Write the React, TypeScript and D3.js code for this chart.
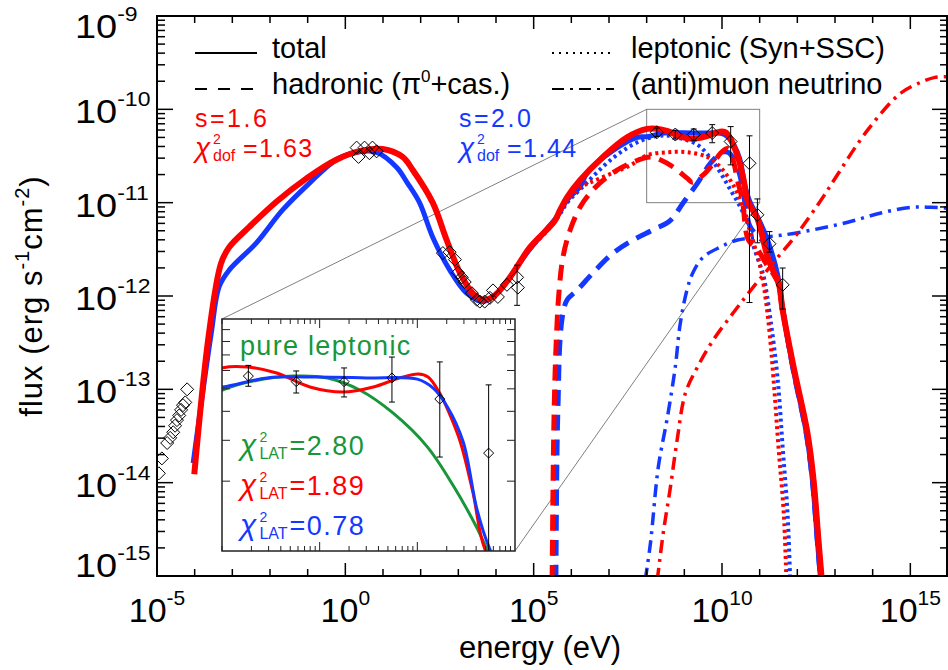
import React from "react";
import * as d3 from "d3";

type Pt = [number, number]; // [log10 E (eV), log10 flux (erg s^-1 cm^-2)]

// model curves, s = 1.6 (red) and s = 2.0 (blue)
const totalS16: Pt[] = [
  [-4.01, -13.91], [-3.62, -12.4], [-3.3, -11.65], [-3.08, -11.475], [-2.55, -11.26], [-1.83, -10.99],
  [-1.03, -10.74], [-0.24, -10.54], [0.46, -10.44], [0.99, -10.425], [1.52, -10.51], [1.79, -10.65],
  [2.32, -11.0], [2.69, -11.4], [3.04, -11.75], [3.38, -11.97], [3.65, -12.04], [3.92, -12.01],
  [4.37, -11.8], [4.9, -11.48], [5.55, -11.2], [5.7, -11.08], [5.89, -10.94], [6.23, -10.76],
  [6.84, -10.51], [7.48, -10.3], [8.01, -10.21], [8.26, -10.207], [8.56, -10.233], [8.9, -10.293],
  [9.24, -10.315], [9.55, -10.293], [9.82, -10.254], [10.01, -10.237], [10.11, -10.25], [10.23, -10.32],
  [10.31, -10.39], [10.44, -10.53], [10.57, -10.75], [10.69, -10.99], [10.94, -11.17], [11.21, -11.58],
  [11.37, -11.74], [11.5, -11.85], [11.61, -12.15], [11.9, -12.76], [12.27, -13.47], [12.43, -13.97],
  [12.56, -14.61], [12.65, -15.05],
];
const totalS20: Pt[] = [
  [-4.04, -13.79], [-3.56, -12.4], [-3.35, -11.9], [-3.08, -11.72], [-2.36, -11.43], [-1.67, -11.08],
  [-0.95, -10.79], [-0.24, -10.54], [0.3, -10.46], [0.83, -10.46], [1.36, -10.62], [1.65, -10.79],
  [1.97, -11.0], [2.32, -11.37], [2.77, -11.72], [3.22, -11.97], [3.65, -12.06], [4.1, -11.94],
  [4.82, -11.54], [5.35, -11.28], [5.62, -11.15], [5.89, -10.97], [6.23, -10.83], [6.42, -10.68],
  [7.11, -10.44], [7.75, -10.3], [8.01, -10.293], [8.46, -10.254], [8.97, -10.25], [9.48, -10.254],
  [10.0, -10.259], [10.16, -10.297], [10.31, -10.38], [10.47, -10.53], [10.61, -10.82], [10.74, -10.99],
  [10.94, -11.15], [11.21, -11.4], [11.48, -11.78], [11.61, -12.13], [11.88, -12.76], [12.24, -13.47],
  [12.4, -13.97], [12.53, -14.61], [12.62, -15.05],
];
const leptS16: Pt[] = [
  [4.9, -11.49], [5.55, -11.21], [5.8, -11.02], [6.23, -10.84], [6.76, -10.74], [7.56, -10.6],
  [8.02, -10.49], [8.55, -10.46], [9.08, -10.46], [9.61, -10.51], [9.96, -10.62], [10.22, -10.76],
  [10.41, -10.9], [10.68, -11.19], [10.84, -11.43], [11.02, -11.69], [11.12, -11.92], [11.24, -12.3],
  [11.37, -12.9], [11.5, -13.62], [11.64, -14.33], [11.71, -15.05],
];
const leptS20: Pt[] = [
  [4.9, -11.48], [5.62, -11.17], [5.89, -11.0], [6.23, -10.86], [7.11, -10.52], [7.83, -10.34],
  [8.44, -10.28], [8.89, -10.31], [9.35, -10.38], [9.69, -10.52], [9.96, -10.68], [10.22, -10.86],
  [10.49, -11.05], [10.68, -11.22], [10.84, -11.47], [11.02, -11.68], [11.1, -11.78], [11.29, -12.26],
  [11.48, -12.9], [11.61, -13.62], [11.74, -14.33], [11.81, -15.05],
];
const hadS16: Pt[] = [
  [5.49, -15.05], [5.51, -14.19], [5.54, -13.3], [5.59, -12.58], [5.67, -11.97], [5.78, -11.58],
  [5.97, -11.29], [6.23, -11.05], [6.58, -10.86], [7.03, -10.7], [7.56, -10.58], [8.1, -10.51],
  [8.36, -10.54], [8.71, -10.62], [9.08, -10.74], [9.21, -10.78], [9.51, -10.7], [9.77, -10.58],
  [9.96, -10.47], [10.15, -10.42], [10.3, -10.55], [10.41, -10.76], [10.54, -10.97], [10.7, -11.4],
  [10.94, -11.5], [11.21, -11.68], [11.37, -11.77], [11.5, -11.87], [11.61, -12.16], [11.9, -12.77],
  [12.27, -13.48], [12.43, -13.98], [12.56, -14.62], [12.65, -15.05],
];
const hadS20: Pt[] = [
  [5.59, -15.05], [5.62, -13.65], [5.65, -13.11], [5.7, -12.47], [5.78, -12.18], [5.89, -12.04],
  [6.15, -11.94], [6.58, -11.75], [7.11, -11.54], [7.64, -11.4], [8.18, -11.29], [8.63, -11.19],
  [8.97, -11.0], [9.35, -10.79], [9.69, -10.58], [10.0, -10.46], [10.16, -10.46], [10.31, -10.53],
  [10.47, -10.7], [10.61, -11.0], [10.74, -11.25], [11.0, -11.38], [11.21, -11.45], [11.48, -11.8],
  [11.61, -12.14], [11.88, -12.77], [12.24, -13.48], [12.4, -13.98], [12.53, -14.62], [12.62, -15.05],
];
const nuS16: Pt[] = [
  [8.28, -15.05], [8.44, -14.54], [8.63, -14.05], [8.81, -13.54], [9.03, -13.04], [9.35, -12.76],
  [9.77, -12.47], [10.3, -12.18], [10.76, -11.94], [11.37, -11.64], [12.01, -11.325], [12.7, -10.93],
  [12.97, -10.76], [13.87, -10.22], [14.75, -9.825], [15.28, -9.71], [15.63, -9.66], [16.03, -9.65],
];
const nuS20: Pt[] = [
  [7.96, -15.05], [8.1, -14.65], [8.31, -13.83], [8.55, -13.3], [8.76, -12.76], [8.89, -12.3],
  [9.08, -11.92], [9.24, -11.74], [9.51, -11.58], [9.96, -11.475], [10.41, -11.4], [11.02, -11.37],
  [11.56, -11.35], [12.43, -11.29], [13.34, -11.21], [14.22, -11.11], [15.02, -11.05], [15.55, -11.05],
  [16.03, -11.06],
];
// pure leptonic fit (inset only)
const pureLept: Pt[] = [
  [7.95, -10.32], [8.01, -10.306], [8.29, -10.27], [8.73, -10.246], [9.08, -10.254], [9.41, -10.306],
  [9.75, -10.405], [10.1, -10.55], [10.37, -10.72], [10.61, -10.9], [10.71, -10.99], [10.74, -11.01],
];

// observations
const radioE = [-4.95, -4.87, -4.73, -4.65, -4.57, -4.52, -4.47, -4.41, -4.36, -4.31, -4.25, -4.2];
const radioF = [-13.9, -13.74, -13.575, -13.52, -13.46, -13.39, -13.33, -13.28, -13.22, -13.17, -13.14, -13.0];
const optE = [0.3, 0.35, 0.51, 0.64, 0.72, 0.83];
const optF = [-10.41, -10.51, -10.41, -10.47, -10.41, -10.45];
const xrayE = [2.59, 2.77, 2.91, 2.99, 3.09, 3.17, 3.36, 3.49, 3.57, 3.7, 3.84, 3.92, 4.05, 4.29, 4.56, 4.58];
const xrayF = [-11.54, -11.53, -11.61, -11.75, -11.8, -11.85, -11.97, -12.04, -12.06, -12.06, -12.02, -11.94, -12.01, -11.88, -11.8, -11.91];
const xrayErrE = [4.56];
const xrayErrLo = [-12.1];
const xrayErrHi = [-11.67];
const fermiE = [8.27, 8.76, 9.25, 9.74, 10.23, 10.73];
const fermiF = [-10.246, -10.27, -10.27, -10.254, -10.345, -10.578];
const fermiLo = [-10.29, -10.319, -10.336, -10.358, -10.595, -12.07];
const fermiHi = [-10.2, -10.224, -10.211, -10.164, -10.185, -10.284];
const tevE = [10.94, 11.26, 11.61];
const tevF = [-11.13, -11.44, -11.88];
const tevLo = [-11.43, -11.53, -12.14];
const tevHi = [-10.96, -11.31, -11.7];

const xDecades = d3.range(-5, 17);
const yDecades = d3.range(-15, -8);

const RED = "#ff0000";
const BLUE = "#1438ff";
const GREEN = "#17963a";
const FONT = "'Liberation Sans', Arial, Helvetica, sans-serif";

const P = { left: 157, right: 948, top: 16, bottom: 576 };
const I = { left: 222, right: 515, top: 319, bottom: 551 };

const p10 = (e: number) => Math.pow(10, e);
const x = d3.scaleLog().domain([1e-5, 1e16]).range([P.left, P.right]);
const y = d3.scaleLog().domain([1e-15, 1e-9]).range([P.bottom, P.top]);
const xi = d3.scaleLog().domain([1e8, 1e11]).range([I.left, I.right]);
const yi = d3.scaleLog().domain([1e-11, 1e-10]).range([I.bottom, I.top]);

const mkLine = (sx: any, sy: any) =>
  d3.line<Pt>().x((d) => sx(p10(d[0]))).y((d) => sy(p10(d[1]))).curve(d3.curveCatmullRom.alpha(0.5));

const diamond = (cx: number, cy: number, r: number) =>
  `M${cx},${cy - r}L${cx + r},${cy}L${cx},${cy + r}L${cx - r},${cy}Z`;

const Points = ({ E, F, sx, sy, r }: any) => (
  <g fill="none" stroke="#000" strokeWidth={1}>
    {E.map((e: number, i: number) => (
      <path key={i} d={diamond(sx(p10(e)), sy(p10(F[i])), r)} />
    ))}
  </g>
);

const ErrBars = ({ E, lo, hi, sx, sy }: any) => (
  <g stroke="#000" strokeWidth={1}>
    {E.map((e: number, i: number) => {
      const cx = sx(p10(e));
      const y0 = sy(p10(lo[i]));
      const y1 = sy(p10(hi[i]));
      return (
        <g key={i}>
          <line x1={cx} x2={cx} y1={y0} y2={y1} />
          <line x1={cx - 3} x2={cx + 3} y1={y0} y2={y0} />
          <line x1={cx - 3} x2={cx + 3} y1={y1} y2={y1} />
        </g>
      );
    })}
  </g>
);

const Chi = ({ x0, y0, sub, val, color, size }: any) => (
  <g fill={color} fontFamily={FONT}>
    <text x={x0} y={y0} fontSize={size + 3} fontStyle="italic">χ</text>
    <text x={x0 + size * 0.72} y={y0 - 13} fontSize={14}>2</text>
    <text x={x0 + size * 0.72} y={y0 + 4} fontSize={16}>{sub}</text>
    <text x={x0 + size * 0.72 + sub.length * 8 + 6} y={y0} fontSize={size} letterSpacing={1.5}>{"=" + val}</text>
  </g>
);

const App = () => {
  const lm = mkLine(x, y);
  const li = mkLine(xi, yi);

  const mainCurves = [
    { d: nuS20, c: BLUE, w: 3.5, dash: "13,6,3,6" },
    { d: leptS20, c: BLUE, w: 4, dash: "3,3.5" },
    { d: hadS20, c: BLUE, w: 5, dash: "16,9" },
    { d: totalS20, c: BLUE, w: 5, dash: null },
    { d: nuS16, c: RED, w: 3.5, dash: "13,6,3,6" },
    { d: leptS16, c: RED, w: 4, dash: "3,3.5" },
    { d: hadS16, c: RED, w: 5, dash: "16,9" },
    { d: totalS16, c: RED, w: 6, dash: null },
  ];

  const yMinor: number[] = [];
  yDecades.slice(0, -1).forEach((d) => d3.range(2, 10).forEach((k) => yMinor.push(k * p10(d))));
  const iyMinor = d3.range(2, 10).map((k) => k * 1e-11);
  const ixTicks: number[] = [];
  [8, 9, 10].forEach((d) => d3.range(1, 10).forEach((k) => ixTicks.push(k * p10(d))));

  return (
    <svg width={948} height={670} style={{ position: "absolute", left: 0, top: 0, background: "#fff" }} fontFamily={FONT}>
      <defs>
        <clipPath id="cp-main"><rect x={P.left} y={P.top} width={P.right - P.left} height={P.bottom - P.top} /></clipPath>
        <clipPath id="cp-inset"><rect x={I.left} y={I.top} width={I.right - I.left} height={I.bottom - I.top} /></clipPath>
      </defs>

      {/* zoom window and connectors */}
      <g stroke="#808080" strokeWidth={1} fill="none">
        <rect x={x(1e8)} y={y(1e-10)} width={x(1e11) - x(1e8)} height={y(1e-11) - y(1e-10)} />
        <line x1={x(1e8)} y1={y(1e-10)} x2={I.left} y2={I.top} />
        <line x1={x(1e11)} y1={y(1e-11)} x2={I.right} y2={I.bottom} />
      </g>

      <g clipPath="url(#cp-main)" fill="none" strokeLinejoin="round">
        {mainCurves.map((c, i) => (
          <path key={i} d={lm(c.d) || ""} stroke={c.c} strokeWidth={c.w} strokeDasharray={c.dash || undefined} />
        ))}
        <ErrBars E={xrayErrE} lo={xrayErrLo} hi={xrayErrHi} sx={x} sy={y} />
        <ErrBars E={fermiE} lo={fermiLo} hi={fermiHi} sx={x} sy={y} />
        <ErrBars E={tevE} lo={tevLo} hi={tevHi} sx={x} sy={y} />
        <Points E={radioE} F={radioF} sx={x} sy={y} r={6.5} />
        <Points E={optE} F={optF} sx={x} sy={y} r={6.5} />
        <Points E={xrayE} F={xrayF} sx={x} sy={y} r={6.5} />
        <Points E={fermiE} F={fermiF} sx={x} sy={y} r={6.5} />
        <Points E={tevE} F={tevF} sx={x} sy={y} r={6.5} />
      </g>

      {/* inset */}
      <rect x={I.left} y={I.top} width={I.right - I.left} height={I.bottom - I.top} fill="#fff" />
      <g clipPath="url(#cp-inset)" fill="none">
        <path d={li(pureLept) || ""} stroke={GREEN} strokeWidth={3} />
        <path d={li(totalS16) || ""} stroke={RED} strokeWidth={3} />
        <path d={li(totalS20) || ""} stroke={BLUE} strokeWidth={3} />
        <ErrBars E={fermiE} lo={fermiLo} hi={fermiHi} sx={xi} sy={yi} />
        <Points E={fermiE} F={fermiF} sx={xi} sy={yi} r={5} />
      </g>
      <g stroke="#222" strokeWidth={1}>
        {ixTicks.map((t, i) => {
          const len = t === 1e9 || t === 1e10 ? 9 : 5;
          return (
            <g key={i}>
              <line x1={xi(t)} x2={xi(t)} y1={I.bottom} y2={I.bottom - len} />
              <line x1={xi(t)} x2={xi(t)} y1={I.top} y2={I.top + len} />
            </g>
          );
        })}
        {iyMinor.map((t, i) => (
          <g key={i}>
            <line x1={I.left} x2={I.left + 8} y1={yi(t)} y2={yi(t)} />
            <line x1={I.right} x2={I.right - 8} y1={yi(t)} y2={yi(t)} />
          </g>
        ))}
        <rect x={I.left} y={I.top} width={I.right - I.left} height={I.bottom - I.top} fill="none" strokeWidth={1.5} />
      </g>
      <text x={240} y={355} fill={GREEN} fontSize={27} letterSpacing={1.3}>pure leptonic</text>
      <Chi x0={240} y0={455} sub="LAT" val="2.80" color={GREEN} size={27} />
      <Chi x0={240} y0={495} sub="LAT" val="1.89" color={RED} size={27} />
      <Chi x0={240} y0={535} sub="LAT" val="0.78" color={BLUE} size={27} />

      {/* fit annotations */}
      <text x={195} y={127} fill={RED} fontSize={25} letterSpacing={2.5}>s=1.6</text>
      <Chi x0={195} y0={157} sub="dof" val="1.63" color={RED} size={25} />
      <text x={459} y={127} fill={BLUE} fontSize={25} letterSpacing={2.5}>s=2.0</text>
      <Chi x0={459} y0={157} sub="dof" val="1.44" color={BLUE} size={25} />

      {/* legend */}
      <g stroke="#000" strokeWidth={2}>
        <line x1={195} x2={257} y1={53} y2={53} />
        <line x1={195} x2={257} y1={89} y2={89} strokeDasharray="12,11" />
        <line x1={552} x2={614} y1={53} y2={53} strokeDasharray="2,5" />
        <line x1={552} x2={614} y1={89} y2={89} strokeDasharray="12,6,3,6" />
      </g>
      <g fontSize={29} fill="#000">
        <text x={272} y={58}>total</text>
        <text x={272} y={94}>hadronic (π<tspan dy={-12} fontSize={17}>0</tspan><tspan dy={12}>+cas.)</tspan></text>
        <text x={631} y={58}>leptonic (Syn+SSC)</text>
        <text x={631} y={94}>(anti)muon neutrino</text>
      </g>

      {/* axes frame and ticks */}
      <g stroke="#000" strokeWidth={1.5}>
        {xDecades.map((d) => {
          const len = d % 5 === 0 ? 13 : 7;
          const xx = x(p10(d));
          return (
            <g key={d}>
              <line x1={xx} x2={xx} y1={P.bottom} y2={P.bottom - len} />
              <line x1={xx} x2={xx} y1={P.top} y2={P.top + len} />
            </g>
          );
        })}
        {yDecades.map((d) => (
          <g key={d}>
            <line x1={P.left} x2={P.left + 16} y1={y(p10(d))} y2={y(p10(d))} />
            <line x1={P.right} x2={P.right - 16} y1={y(p10(d))} y2={y(p10(d))} />
          </g>
        ))}
        {yMinor.map((t, i) => (
          <g key={i}>
            <line x1={P.left} x2={P.left + 8} y1={y(t)} y2={y(t)} />
            <line x1={P.right} x2={P.right - 8} y1={y(t)} y2={y(t)} />
          </g>
        ))}
        <rect x={P.left} y={P.top} width={P.right - P.left - 1} height={P.bottom - P.top} fill="none" strokeWidth={2} />
      </g>

      {/* tick labels */}
      <g fill="#000">
        {xDecades.filter((d) => d % 5 === 0).map((d) => (
          <text key={d} x={x(p10(d))} y={622} textAnchor="middle" fontSize={34}>
            10<tspan dy={-17} fontSize={21}>{d < 0 ? `-${-d}` : `${d}`}</tspan>
          </text>
        ))}
        {yDecades.map((d) => {
          const yy = Math.min(Math.max(y(p10(d)) + 14, 38), 577);
          return (
            <g key={d} transform={`translate(75,${yy}) scale(1.15,1)`}>
              <text x={0} y={0} fontSize={33}>
                10<tspan dy={-17} fontSize={20}>{`-${-d}`}</tspan>
              </text>
            </g>
          );
        })}
      </g>

      {/* axis titles */}
      <text x={540} y={658} textAnchor="middle" fontSize={31}>energy (eV)</text>
      <text transform="translate(42,296) rotate(-90)" textAnchor="middle" fontSize={31} letterSpacing={1}>
        flux (erg s<tspan dy={-13} fontSize={20}>-1</tspan><tspan dy={13}>cm</tspan>
        <tspan dy={-13} fontSize={20}>-2</tspan><tspan dy={13}>)</tspan>
      </text>
    </svg>
  );
};

export default App;
